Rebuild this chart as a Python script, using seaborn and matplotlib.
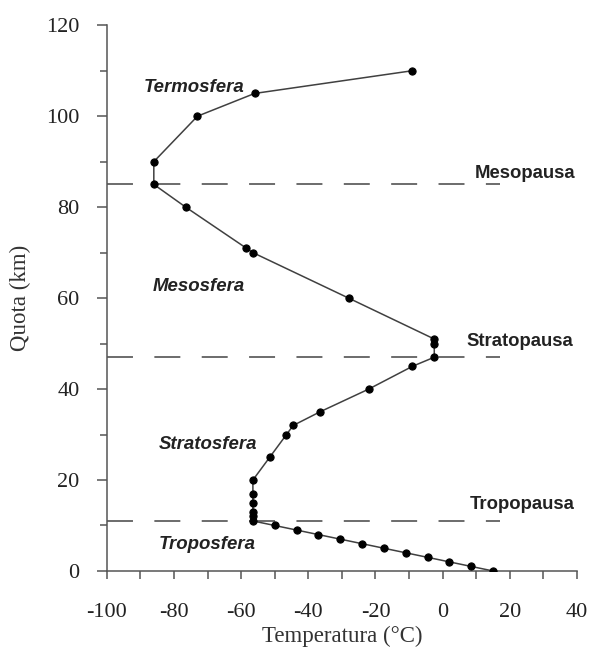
import matplotlib
matplotlib.use("Agg")
import matplotlib.pyplot as plt
import seaborn as sns
import pandas as pd
from matplotlib.ticker import MultipleLocator

# Data (temperature in °C, altitude in km)
temperature = [15, 8.5, 2, -4.5, -11, -17.5, -24, -30.5, -37, -43.5, -50,
               -56.5, -56.5, -56.5, -56.5, -56.5, -56.5,
               -51.5, -46.5, -44.5, -36.5, -22, -9, -2.5, -2.5, -2.5,
               -28, -56.5, -58.5, -76.5, -86, -86, -73, -56, -9]
altitude = [0, 1, 2, 3, 4, 5, 6, 7, 8, 9, 10,
            11, 12, 13, 15, 17, 20,
            25, 30, 32, 35, 40, 45, 47, 50, 51,
            60, 70, 71, 80, 85, 90, 100, 105, 110]

layer_names = ["Termosfera", "Mesosfera", "Stratosfera", "Troposfera"]
layer_x = [-74, -72.5, -70, -70]
layer_y = [106.4, 62.6, 27.9, 5.9]

pause_names = ["Mesopausa", "Stratopausa", "Tropopausa"]
pause_alt = [85, 47, 11]
pause_label_x = [24.4, 22.9, 23.8]
pause_label_y = [87.5, 50.4, 14.7]

x_ticks = [-100, -80, -60, -40, -20, 0, 20, 40]
y_ticks = [0, 20, 40, 60, 80, 100, 120]

df = pd.DataFrame({"Temperatura": temperature, "Quota": altitude})

sns.set_style("ticks")
plt.rcParams["font.family"] = ["Liberation Serif", "DejaVu Serif"]

fig = plt.figure(figsize=(5.9, 6.47), dpi=100)
ax = fig.add_axes([0.181, 0.1175, 0.797, 0.8435])

# dashed pause lines
for a in pause_alt:
    ax.plot([-100, 17], [a, a], color="#444444", lw=1.1,
            linestyle=(0, (17, 14)), zorder=1)

sns.lineplot(data=df, x="Temperatura", y="Quota", sort=False, estimator=None,
             color="#404040", linewidth=1.1, marker="o", markersize=5.2,
             markerfacecolor="black", markeredgecolor="black", ax=ax, zorder=3)

for name, x, y in zip(layer_names, layer_x, layer_y):
    ax.text(x, y, name, ha="center", va="center", fontsize=13.4,
            fontweight="bold", fontstyle="italic", color="#222222",
            family=["Liberation Sans", "DejaVu Sans"])
for name, x, y in zip(pause_names, pause_label_x, pause_label_y):
    ax.text(x, y, name, ha="center", va="center", fontsize=13.3,
            fontweight="bold", color="#222222",
            family=["Liberation Sans", "DejaVu Sans"])

ax.set_xlim(-100, 40)
ax.set_ylim(0, 120)
ax.set_xticks(x_ticks)
ax.set_yticks(y_ticks)
ax.xaxis.set_minor_locator(MultipleLocator(10))
ax.yaxis.set_minor_locator(MultipleLocator(10))
ax.set_xticklabels([str(v) if v >= 0 else "-" + str(abs(v)) for v in x_ticks])

ax.tick_params(axis="both", which="major", labelsize=16, colors="#555555",
               labelcolor="#222222", width=1.1)
ax.tick_params(axis="x", which="both", length=6, pad=17)
ax.tick_params(axis="y", which="major", length=7.5, pad=12)
ax.tick_params(axis="y", which="minor", length=5, width=1.1, colors="#555555")
ax.tick_params(axis="x", which="minor", width=1.1, colors="#555555")

for s in ["left", "bottom"]:
    ax.spines[s].set_color("#555555")
    ax.spines[s].set_linewidth(1.1)
sns.despine(ax=ax)

ax.set_xlabel("Temperatura (°C)", fontsize=16.5, color="#333333", labelpad=3)
ax.set_ylabel("Quota (km)", fontsize=16.5, color="#333333", labelpad=11)

fig.savefig("out.png", dpi=100)
